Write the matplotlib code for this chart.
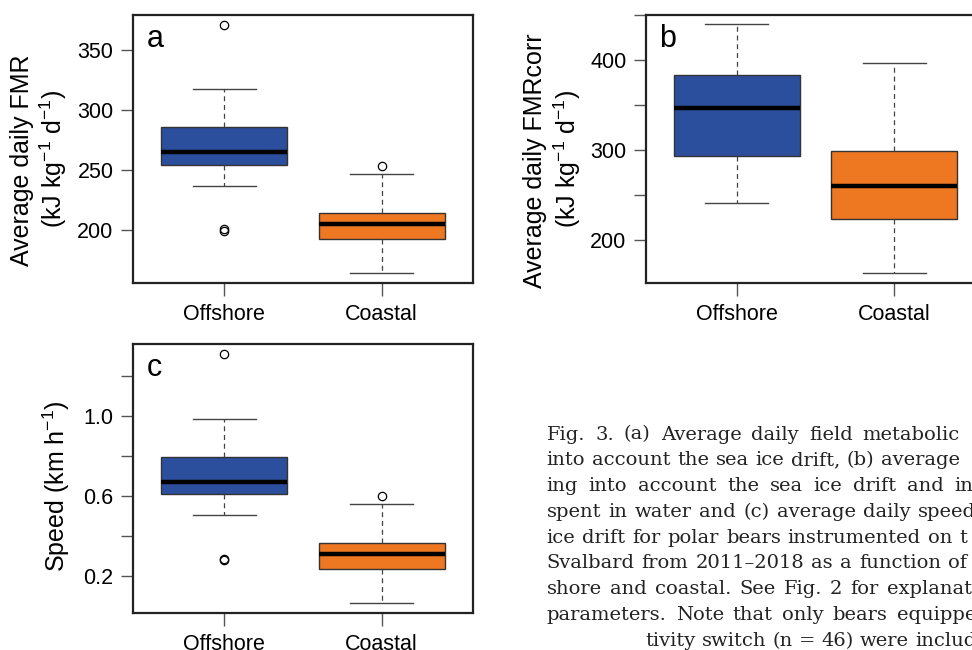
import numpy as np
import matplotlib
matplotlib.use('Agg')
import matplotlib.pyplot as plt

plt.rcParams['font.family'] = ['Liberation Sans', 'DejaVu Sans']
plt.rcParams['mathtext.default'] = 'regular'

# groups
groups = ['Offshore', 'Coastal']
box_colors = ['#2b4f9d', '#ee7722']

# (a) average daily FMR: whislo, q1, med, q3, whishi
fmr_offshore = [237.0, 254.2, 264.7, 285.6, 317.2]
fmr_coastal = [163.9, 192.2, 204.7, 213.9, 246.4]
fmr_offshore_out = [370.8, 199.0, 201.0]
fmr_coastal_out = [253.6]

# (b) average daily FMRcorr
fmrc_offshore = [241.5, 293.3, 346.3, 383.3, 439.7]
fmrc_coastal = [163.0, 223.3, 260.0, 298.9, 396.3]
fmrc_offshore_out = []
fmrc_coastal_out = []

# (c) speed
spd_offshore = [0.502, 0.607, 0.667, 0.795, 0.982]
spd_coastal = [0.062, 0.232, 0.307, 0.365, 0.558]
spd_offshore_out = [1.307, 0.286, 0.278]
spd_coastal_out = [0.60]

# caption (clipped at the right edge like the source page)
caption_lines = [
    'Fig. 3. (a) Average daily field metabolic',
    'into account the sea ice drift, (b) average',
    'ing into account the sea ice drift and in',
    'spent in water and (c) average daily speed',
    'ice drift for polar bears instrumented on t',
    'Svalbard from 2011\u20132018 as a function of',
    'shore and coastal. See Fig. 2 for explanati',
    'parameters. Note that only bears equippe',
    'tivity switch (n = 46) were includ',
]
# right end of each justified line in pixels (None = natural spacing)
caption_right = [960, 960, 973, 976, 967, 967, 978, 976, None]
caption_left = [546.7] * 8 + [645]
caption_base = [439.5 + 25.8 * i for i in range(9)]

W, H = 972, 650
fig = plt.figure(figsize=(W / 100, H / 100), dpi=100)


def px_axes(left, top, right, bottom):
    return fig.add_axes([left / W, 1 - bottom / H, (right - left) / W, (bottom - top) / H])


def make_stats(five, out):
    lo, q1, med, q3, hi = five
    return dict(whislo=lo, q1=q1, med=med, q3=q3, whishi=hi, fliers=out)


def draw_panel(ax, stats, ylim, yticks, yticklabels, letter):
    bp = ax.bxp(stats, positions=[1, 2], widths=0.8, patch_artist=True,
                boxprops=dict(edgecolor='#333333', linewidth=1.0),
                medianprops=dict(color='black', linewidth=3.2, solid_capstyle='butt'),
                whiskerprops=dict(color='#444444', linewidth=0.9, linestyle=(0, (4, 3))),
                capprops=dict(color='#444444', linewidth=1.0),
                capwidths=0.4,
                flierprops=dict(marker='o', markersize=6, markerfacecolor='none',
                                markeredgecolor='black', markeredgewidth=0.9))
    for patch, c in zip(bp['boxes'], box_colors):
        patch.set_facecolor(c)
    ax.set_xlim(0.42, 2.58)
    ax.set_ylim(*ylim)
    ax.set_xticks([1, 2])
    ax.set_xticklabels(groups, fontsize=15.5)
    ax.set_yticks(yticks)
    ax.set_yticklabels(yticklabels, fontsize=15.5)
    ax.tick_params(axis='both', length=9, width=1.0, color='#555555', pad=5)
    ax.tick_params(axis='x', pad=6)
    for s in ax.spines.values():
        s.set_linewidth(1.6)
        s.set_color('#222222')
    ax.text(0.04, 0.965, letter, transform=ax.transAxes, fontsize=22,
            ha='left', va='top')


ax_a = px_axes(133, 15, 473, 283)
draw_panel(ax_a,
           [make_stats(fmr_offshore, fmr_offshore_out), make_stats(fmr_coastal, fmr_coastal_out)],
           (155.8, 379.2), [200, 250, 300, 350], ['200', '250', '300', '350'], 'a')

ax_b = px_axes(645.7, 15, 985.5, 283.3)
draw_panel(ax_b,
           [make_stats(fmrc_offshore, fmrc_offshore_out), make_stats(fmrc_coastal, fmrc_coastal_out)],
           (151.9, 450), [200, 250, 300, 350, 400, 450], ['200', '', '300', '', '400', ''], 'b')

ax_c = px_axes(133, 344, 473, 613.3)
draw_panel(ax_c,
           [make_stats(spd_offshore, spd_offshore_out), make_stats(spd_coastal, spd_coastal_out)],
           (0.012, 1.3585), [0.2, 0.4, 0.6, 0.8, 1.0, 1.2], ['0.2', '', '0.6', '', '1.0', ''], 'c')

# y labels
lab_kw = dict(rotation=90, ha='center', va='center', fontsize=18)
fig.text(21.7 / W, 1 - 160 / H, 'Average daily FMR', **lab_kw)
fig.text(53 / W, 1 - 159 / H, r'(kJ kg$^{-1}$ d$^{-1}$)', **lab_kw)
fig.text(535 / W, 1 - 161 / H, 'Average daily FMRcorr', **lab_kw)
fig.text(567.3 / W, 1 - 159 / H, r'(kJ kg$^{-1}$ d$^{-1}$)', **lab_kw)
fig.text(56.7 / W, 1 - 486.7 / H, r'Speed (km h$^{-1}$)', **lab_kw)

# caption, justified word by word
cap_kw = dict(family='DejaVu Serif', fontsize=14, ha='left', va='baseline', color='#222222')
renderer = fig.canvas.get_renderer()
probe = fig.text(0, 0, 'x x', **cap_kw)
probe2 = fig.text(0, 0, 'xx', **cap_kw)
space_w = probe.get_window_extent(renderer).width - probe2.get_window_extent(renderer).width
probe.remove()
probe2.remove()
for line, right, left, base in zip(caption_lines, caption_right, caption_left, caption_base):
    words = line.split(' ')
    texts = [fig.text(0, 1 - base / H, w, **cap_kw) for w in words]
    widths = [t.get_window_extent(renderer).width for t in texts]
    gap = space_w
    if right is not None and len(words) > 1:
        gap = max(space_w, (right - left - sum(widths)) / (len(words) - 1))
    x = left
    for t, w in zip(texts, widths):
        t.set_x(x / W)
        x += w + gap

fig.savefig('out.png', dpi=100)
